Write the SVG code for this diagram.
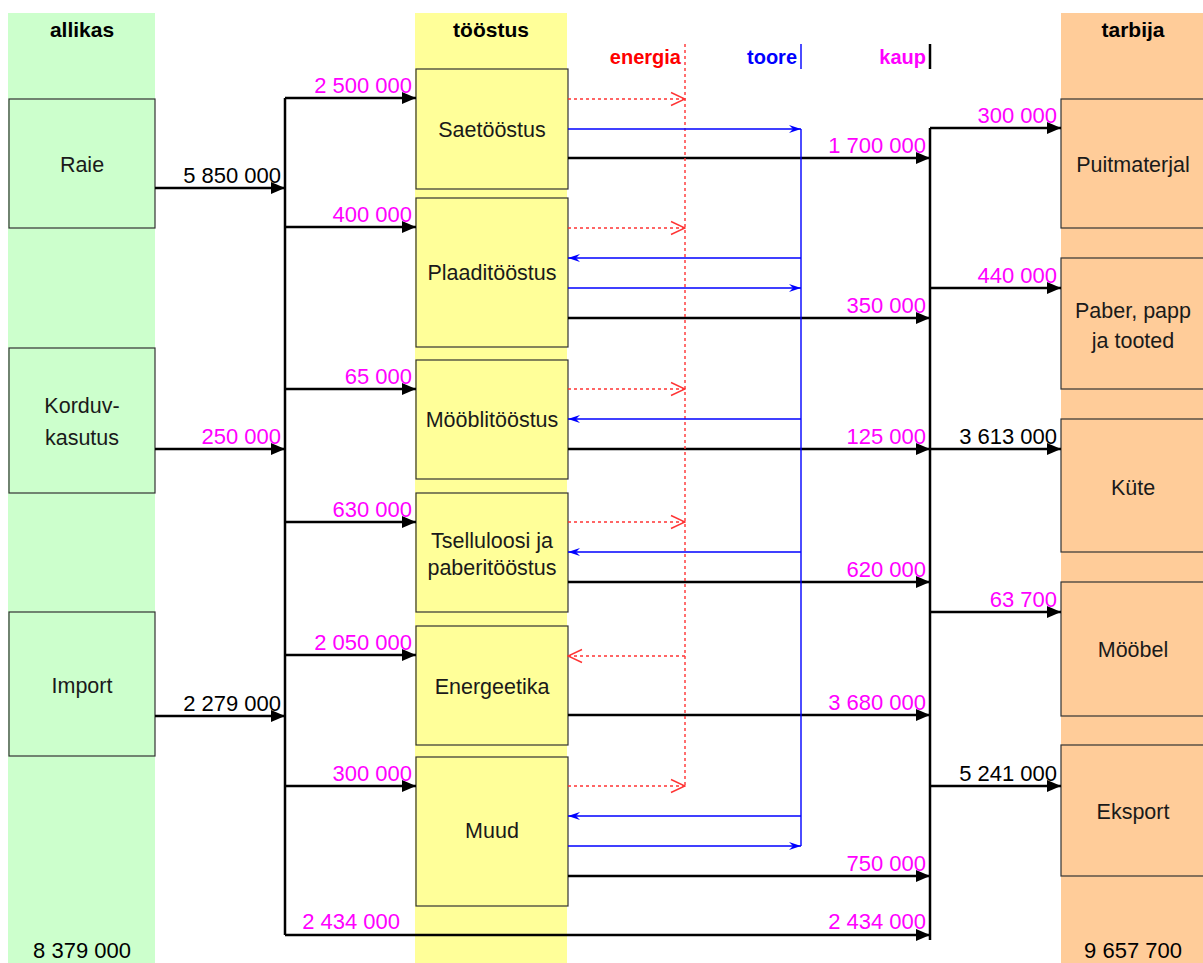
<svg xmlns="http://www.w3.org/2000/svg" width="1203" height="963" viewBox="0 0 1203 963">
<style>
text{font-family:"Liberation Sans",Arial,sans-serif;}
.hd{font-size:21px;font-weight:bold;text-anchor:middle;fill:#000;}
.lb{font-size:21.5px;text-anchor:middle;fill:#1a1a1a;}
.nm{font-size:22px;text-anchor:end;fill:#ff00ff;}
.nb{font-size:22px;text-anchor:end;fill:#000;}
.tot{font-size:22px;text-anchor:middle;fill:#000;}
.lg{font-size:20px;font-weight:bold;text-anchor:end;}
.gbox{fill:#ccffcc;stroke:#333;stroke-width:1.2;}
.ybox{fill:#ffff99;stroke:#333;stroke-width:1.2;}
.obox{fill:#ffcc99;stroke:#333;stroke-width:1.2;}
.fl{stroke:#000;stroke-width:2.5;fill:none;marker-end:url(#ab);}
.bus{stroke:#000;stroke-width:2.5;fill:none;}
.en{stroke:#ff3333;stroke-width:1.4;stroke-dasharray:3,3;fill:none;marker-end:url(#ar);}
.to{stroke:#0000ff;stroke-width:1.4;fill:none;marker-end:url(#at);}
</style>
<defs>
<marker id="ab" viewBox="0 0 14 12" refX="14" refY="6" markerWidth="14" markerHeight="12" markerUnits="userSpaceOnUse" orient="auto"><path d="M0,0 L14,6 L0,12 z" fill="#000"/></marker>
<marker id="ar" viewBox="0 0 16 16" refX="15" refY="8" markerWidth="16" markerHeight="16" markerUnits="userSpaceOnUse" orient="auto"><path d="M1,1.5 L15,8 L1,14.5" fill="none" stroke="#ff3333" stroke-width="1.4"/></marker>
<marker id="at" viewBox="0 0 12 8" refX="12" refY="4" markerWidth="12" markerHeight="8" markerUnits="userSpaceOnUse" orient="auto"><path d="M0,0 L12,4 L0,8 L4,4 z" fill="#0000ff"/></marker>
</defs>
<rect x="0" y="0" width="1203" height="963" fill="#fff"/>
<rect x="8" y="13" width="147" height="950" fill="#ccffcc"/>
<rect x="415" y="13" width="152" height="950" fill="#ffff99"/>
<rect x="1061" y="13" width="142" height="950" fill="#ffcc99"/>
<text class="hd" x="82" y="37">allikas</text>
<text class="hd" x="491" y="37">tööstus</text>
<text class="hd" x="1133" y="37">tarbija</text>
<text class="tot" x="82" y="958">8 379 000</text>
<text class="tot" x="1133" y="958">9 657 700</text>
<g id="legend">
<text class="lg" x="681" y="64" fill="#ff0000">energia</text>
<text class="lg" x="797" y="64" fill="#0000ff">toore</text>
<text class="lg" x="926" y="64" fill="#ff00ff">kaup</text>
<line x1="801" y1="44" x2="801" y2="69" stroke="#0000ff" stroke-width="1.4"/>
<line x1="930" y1="44" x2="930" y2="69" stroke="#000" stroke-width="2.5"/>
</g>
<g id="raie"><rect class="gbox" x="9" y="99" width="146" height="129"/><text class="lb" x="82" y="172">Raie</text></g>
<g id="korduv"><rect class="gbox" x="9" y="348" width="146" height="145"/><text class="lb" x="82" y="413">Korduv-</text><text class="lb" x="82" y="445">kasutus</text></g>
<g id="import"><rect class="gbox" x="9" y="612" width="146" height="144"/><text class="lb" x="82" y="693">Import</text></g>
<g id="saet"><rect class="ybox" x="416" y="69" width="152" height="120"/><text class="lb" x="492" y="137">Saetööstus</text></g>
<g id="plaad"><rect class="ybox" x="416" y="198" width="152" height="149"/><text class="lb" x="492" y="280">Plaaditööstus</text></g>
<g id="mooblit"><rect class="ybox" x="416" y="360" width="152" height="119"/><text class="lb" x="492" y="427">Mööblitööstus</text></g>
<g id="tsell"><rect class="ybox" x="416" y="493" width="152" height="119"/><text class="lb" x="492" y="548">Tselluloosi ja</text><text class="lb" x="492" y="575">paberitööstus</text></g>
<g id="energ"><rect class="ybox" x="416" y="626" width="152" height="119"/><text class="lb" x="492" y="694">Energeetika</text></g>
<g id="muud"><rect class="ybox" x="416" y="757" width="152" height="149"/><text class="lb" x="492" y="838">Muud</text></g>
<g id="puit"><rect class="obox" x="1061" y="99" width="145" height="129"/><text class="lb" x="1133" y="172">Puitmaterjal</text></g>
<g id="paber"><rect class="obox" x="1061" y="258" width="145" height="131"/><text class="lb" x="1133" y="318">Paber, papp</text><text class="lb" x="1133" y="348">ja tooted</text></g>
<g id="kute"><rect class="obox" x="1061" y="419" width="145" height="133"/><text class="lb" x="1133" y="495">Küte</text></g>
<g id="moobel"><rect class="obox" x="1061" y="582" width="145" height="134"/><text class="lb" x="1133" y="657">Mööbel</text></g>
<g id="eksport"><rect class="obox" x="1061" y="745" width="145" height="131"/><text class="lb" x="1133" y="819">Eksport</text></g>
<g id="connectors">
<path class="bus" d="M285,98 L285,935"/>
<path class="bus" d="M930,128 L930,940"/>
<path class="fl" d="M155,188 L285,188"/>
<path class="fl" d="M155,449 L285,449"/>
<path class="fl" d="M155,716 L285,716" stroke-width="1.4"/>
<path class="fl" d="M285,98 L416,98"/>
<path class="fl" d="M285,227 L416,227"/>
<path class="fl" d="M285,389 L416,389"/>
<path class="fl" d="M285,522 L416,522"/>
<path class="fl" d="M285,655 L416,655"/>
<path class="fl" d="M285,786 L416,786"/>
<path class="fl" d="M285,935 L930,935"/>
<path class="fl" d="M568,158 L930,158"/>
<path class="fl" d="M568,318 L930,318"/>
<path class="fl" d="M568,449 L930,449"/>
<path class="fl" d="M568,582 L930,582"/>
<path class="fl" d="M568,715 L930,715"/>
<path class="fl" d="M568,876 L930,876"/>
<path class="fl" d="M930,128 L1061,128"/>
<path class="fl" d="M930,288 L1061,288"/>
<path class="fl" d="M930,449 L1061,449"/>
<path class="fl" d="M930,612 L1061,612"/>
<path class="fl" d="M930,786 L1061,786"/>
<line x1="685" y1="44" x2="685" y2="786" stroke="#ff3333" stroke-width="1.4" stroke-dasharray="3,3"/>
<path class="en" d="M568,99 L685,99"/>
<path class="en" d="M568,228 L685,228"/>
<path class="en" d="M568,389 L685,389"/>
<path class="en" d="M568,522 L685,522"/>
<path class="en" d="M685,656 L568,656"/>
<path class="en" d="M568,786 L685,786"/>
<line x1="801" y1="129" x2="801" y2="846" stroke="#0000ff" stroke-width="1.4"/>
<path class="to" d="M568,129 L801,129"/>
<path class="to" d="M801,258 L568,258"/>
<path class="to" d="M568,288 L801,288"/>
<path class="to" d="M801,419 L568,419"/>
<path class="to" d="M801,552 L568,552"/>
<path class="to" d="M801,816 L568,816"/>
<path class="to" d="M568,846 L801,846"/>
</g>
<g id="labels">
<text class="nb" x="281" y="183">5 850 000</text>
<text class="nm" x="281" y="444">250 000</text>
<text class="nb" x="281" y="711">2 279 000</text>
<text class="nm" x="412" y="93">2 500 000</text>
<text class="nm" x="412" y="222">400 000</text>
<text class="nm" x="412" y="384">65 000</text>
<text class="nm" x="412" y="517">630 000</text>
<text class="nm" x="412" y="650">2 050 000</text>
<text class="nm" x="412" y="781">300 000</text>
<text class="nm" x="400" y="929">2 434 000</text>
<text class="nm" x="926" y="153">1 700 000</text>
<text class="nm" x="926" y="313">350 000</text>
<text class="nm" x="926" y="444">125 000</text>
<text class="nm" x="926" y="577">620 000</text>
<text class="nm" x="926" y="710">3 680 000</text>
<text class="nm" x="926" y="871">750 000</text>
<text class="nm" x="926" y="929">2 434 000</text>
<text class="nm" x="1057" y="123">300 000</text>
<text class="nm" x="1057" y="283">440 000</text>
<text class="nb" x="1057" y="444">3 613 000</text>
<text class="nm" x="1057" y="607">63 700</text>
<text class="nb" x="1057" y="781">5 241 000</text>
</g>
</svg>
